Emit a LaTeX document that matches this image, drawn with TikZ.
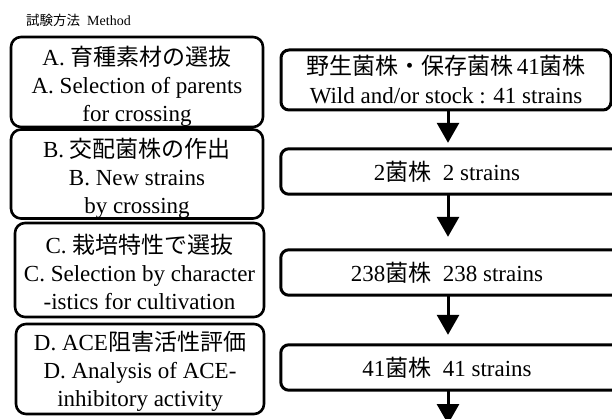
\documentclass[tikz,border=0pt]{standalone}
\usepackage{fontspec}
\setmainfont{Liberation Serif}
\newfontfamily\jpfont{Noto Sans CJK JP}
\usetikzlibrary{arrows.meta}
\newcommand{\J}[1]{{\jpfont\fontsize{23}{28}\selectfont #1}}
\newcommand{\Js}[1]{{\jpfont\fontsize{13.5}{16}\selectfont #1}}
\newcommand{\tstrut}[1]{\rule{0pt}{#1}}
\begin{document}
\begin{tikzpicture}[x=1pt,y=-1pt,
  lbox/.style={draw, line width=2.6pt, rounded corners=10pt, align=center, inner sep=0pt,
               font=\fontsize{23}{28}\selectfont},
  rnode/.style={inner sep=0pt, minimum width=330pt, align=center,
               font=\fontsize{23}{29}\selectfont},
  rline/.style={line width=3pt, rounded corners=8pt},
  arr/.style={line width=3pt, -{Triangle[width=22pt,length=20pt]}}
]
\useasboundingbox (0,0) rectangle (612,419);
\clip (0,0) rectangle (612,419);

\node[anchor=west, inner sep=0pt, font=\fontsize{14}{16}\selectfont] (T) at (26,20) {\Js{試験方法}\ \ Method};

\node[lbox, minimum width=252pt, minimum height=90pt] (A) at (137,82)
  {\tstrut{28pt}A. \J{育種素材の選抜}\\A. Selection of parents\\for crossing};
\node[lbox, minimum width=252pt, minimum height=84pt] (B) at (137,174)
  {\tstrut{28pt}B. \J{交配菌株の作出}\\B. New strains\\by crossing};
\node[lbox, minimum width=249pt, minimum height=94pt] (C) at (139.5,270)
  {\tstrut{23pt}C. \J{栽培特性で選抜}\\C. Selection by character\\-istics for cultivation};
\node[lbox, minimum width=248pt, minimum height=90pt] (D) at (140,369)
  {\tstrut{24pt}D. ACE\J{阻害活性評価}\\D. Analysis of ACE-\\inhibitory activity};

\node[rnode, draw, rline, minimum height=60pt] (R1) at (446,80)
  {\J{野生菌株・保存菌株}\,41\J{菌株}\\Wild and/or stock : 41 strains};
\node[rnode, minimum height=45pt] (R2) at (447,171.5) {2\J{菌株}\ \ 2 strains};
\node[rnode, minimum height=45pt] (R3) at (447,272.5) {238\J{菌株}\ \ 238 strains};
\node[rnode, minimum height=45pt] (R4) at (447,367.5) {41\J{菌株}\ \ 41 strains};

\foreach \n in {R2,R3,R4}{
  \draw[rline] ([xshift=30pt]\n.north east) -- ([xshift=-1pt]\n.north west) -- ([xshift=-1pt]\n.south west) -- ([xshift=30pt]\n.south east);
}

\coordinate (E) at (448,424);
\draw[arr, shorten >=6pt] ([xshift=2pt]R1.south) -- ([xshift=1pt]R2.north);
\draw[arr, shorten >=13pt] ([xshift=1pt]R2.south) -- ([xshift=1pt]R3.north);
\draw[arr, shorten >=10pt] ([xshift=1pt]R3.south) -- ([xshift=1pt]R4.north);
\draw[arr] ([xshift=1pt]R4.south) -- (E);
\end{tikzpicture}
\end{document}
